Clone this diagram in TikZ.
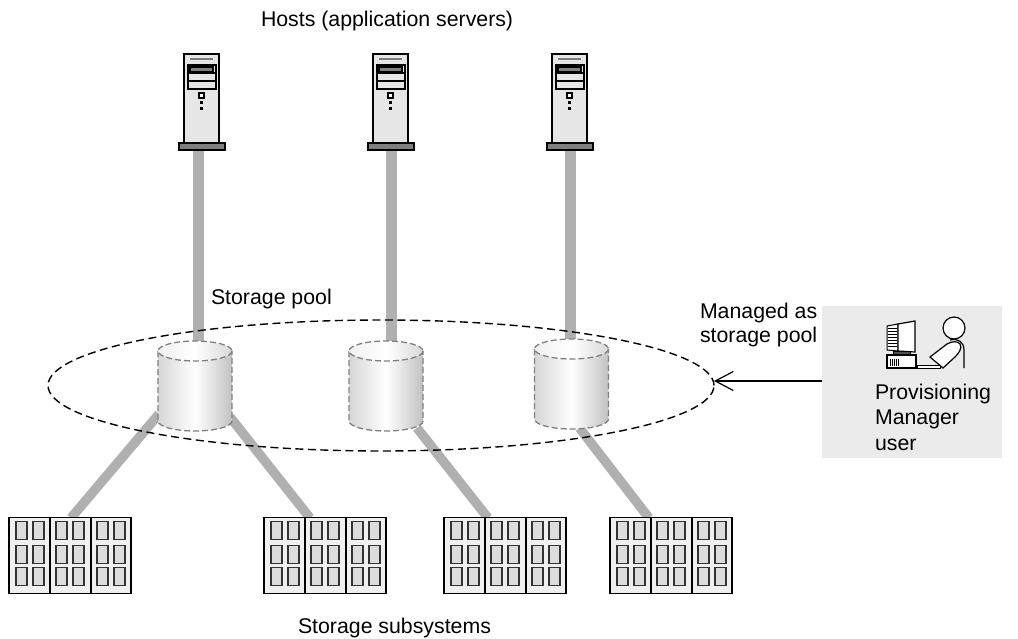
\documentclass[tikz,border=0pt]{standalone}
\usepackage{fontspec}
\setmainfont{Liberation Sans}
\usepackage{tikz}
\usetikzlibrary{shapes.geometric,arrows.meta,backgrounds}
\definecolor{poleGray}{HTML}{B0B0B0}
\definecolor{bodyGray}{HTML}{E6E6E6}
\definecolor{baseGray}{HTML}{7F7F7F}
\definecolor{boxGray}{HTML}{EBEBEB}
\definecolor{winGray}{HTML}{DCDCDC}
\tikzstyle{every node}=[inner sep=0pt,outer sep=0pt]
\tikzstyle{label}=[font=\fontsize{21.3}{25.5}\selectfont,align=left,anchor=west]
\tikzstyle{pole}=[line width=11pt,draw=poleGray]
\tikzstyle{slantpole}=[line width=9.5pt,draw=poleGray]
\tikzstyle{unit}=[draw=black,line width=1.7pt]
\tikzstyle{cylline}=[draw=black!50,line width=1.3pt,dash pattern=on 6pt off 3pt]
\tikzset{
    hostserver/.pic={
        \draw[unit,fill=bodyGray] (-18,-89) rectangle (17,0);
        \draw[draw=baseGray,line width=2.5pt] (-12,-84) -- (11,-84);
        \draw[line width=1.1pt,fill=bodyGray] (-14,-78) rectangle (14,-54);
        \draw[line width=1.1pt,fill=baseGray] (-12,-76) rectangle (11,-71);
        \draw[line width=1.1pt] (-14,-70) -- (14,-70);
        \draw[line width=1.1pt] (-14,-62) -- (14,-62);
        \draw[line width=1.1pt,fill=white] (-3,-50) rectangle (2,-45);
        \fill (-2,-42) rectangle (1,-39);
        \fill (-2,-36) rectangle (1,-33);
        \draw[unit,fill=baseGray] (-23,0) rectangle (23,7);
        \coordinate (-foot) at (0,7);
    },
    poolcyl/.pic={
        \shade[left color=black!16,right color=black!24,middle color=white]
            (-37,10) -- (-37,80) arc[start angle=180,end angle=0,x radius=37,y radius=10]
            -- (37,10) -- cycle;
        \draw[cylline]
            (-37,10) -- (-37,80) arc[start angle=180,end angle=0,x radius=37,y radius=10]
            -- (37,10);
        \shade[left color=black!6,right color=black!15,middle color=white]
            (0,10) ellipse[x radius=37,y radius=10];
        \draw[cylline] (0,10) ellipse[x radius=37,y radius=10];
        \coordinate (-top) at (0,1);
        \coordinate (-left) at (-36,73);
        \coordinate (-right) at (35,76);
        \coordinate (-low) at (31,87);
        \coordinate (-mid) at (8,89);
    },
    diskarray/.pic={
        \draw[unit,fill=black!6] (0,0) rectangle (122,76);
        \draw[unit] (41,0) -- (41,76);
        \draw[unit] (82,0) -- (82,76);
        \foreach \col in {7,24,47,64,88,105}
            \foreach \row in {4,28,50}
                \draw[draw=black!80,line width=1.2pt,fill=winGray] (\col,\row) rectangle +(11,18);
    }
}

\begin{document}
\begin{tikzpicture}[x=1pt,y=-1pt]
    \useasboundingbox (0,0) rectangle (1018,639);
    % hosts
    \pic (hostA) at (202,143) {hostserver};
    \pic (hostB) at (391,143) {hostserver};
    \pic (hostC) at (570,143) {hostserver};
    \node[label] (hostsText) at (261,21) {Hosts (application servers)};
    % pool
    \pic (cylA) at (195,341) {poolcyl};
    \pic (cylB) at (386,341) {poolcyl};
    \pic (cylC) at (571.5,339) {poolcyl};
    \node[ellipse,draw,line width=1.4pt,dash pattern=on 8pt off 4.5pt,
        minimum width=666pt,minimum height=131pt] (poolRing) at (381,385.5) {};
    \node[label] (poolText) at (211,299) {Storage pool};
    % storage subsystems
    \pic (arrA) at (9,517.5) {diskarray};
    \pic (arrB) at (264,517.5) {diskarray};
    \pic (arrC) at (444,517.5) {diskarray};
    \pic (arrD) at (610,517.5) {diskarray};
    \coordinate (inA) at (71,518);
    \coordinate (inB) at (310,518);
    \coordinate (inC) at (488,518);
    \coordinate (inD) at (649,518);
    \node[label] (subsText) at (298,628) {Storage subsystems};
    \begin{pgfonlayer}{background}
        \draw[pole] ([xshift=-4pt]hostA-foot) -- ([xshift=-4pt]hostA-foot |- cylA-top);
        \draw[pole] (hostB-foot) -- (hostB-foot |- cylB-top);
        \draw[pole] (hostC-foot) -- (hostC-foot |- cylC-top);
        \draw[slantpole] (cylA-left) -- (inA);
        \draw[slantpole] (cylA-right) -- (inB);
        \draw[slantpole] (cylB-low) -- (inC);
        \draw[slantpole] (cylC-mid) -- (inD);
    \end{pgfonlayer}
    % user
    \node[fill=boxGray,minimum width=180pt,minimum height=152pt] (mgrBox) at (912,382) {};
    \draw[line width=1pt,fill=white] (887,326) -- (898,324) -- (898,351) -- (887,350) -- cycle;
    \foreach \vy in {328,331,...,346}
        \draw[line width=1pt] (888,\vy) -- (897,\vy);
    \draw[line width=1.2pt,fill=white] (898,324) -- (915,321) -- (915,352) -- (898,351) -- cycle;
    \draw[line width=1pt,fill=black!70] (893,351) rectangle (910,355);
    \draw[line width=1.2pt,fill=white] (887,355) rectangle (916,368);
    \foreach \vx in {890,892,...,898}
        \draw[line width=.8pt] (\vx,359) -- (\vx,366);
    \draw[line width=1pt,fill=white] (917,365) rectangle (940,368);
    \draw[line width=1.2pt,fill=white] (954,328) circle[radius=11];
    \draw[line width=1.2pt] (950,340) .. controls (958,338) and (964,342) .. (964,350) -- (964,368);
    \draw[line width=1.2pt,fill=white] (930,357) -- (947,344) .. controls (952,341) and (958,341) .. (960,344)
        .. controls (963,348) and (958,354) .. (955,357) -- (943,368) -- cycle;
    \node[label] (mgrText) at (875,417) {Provisioning\\Manager\\user};
    \node[label] (managedText) at (700,325) {Managed as\\[-1pt]storage pool};
    \coordinate (tipPt) at (714,381);
    \draw[line width=1.2pt,-{Straight Barb[length=18pt,width=19pt]}] (mgrBox.west |- tipPt) -- (tipPt);
\end{tikzpicture}
\end{document}
